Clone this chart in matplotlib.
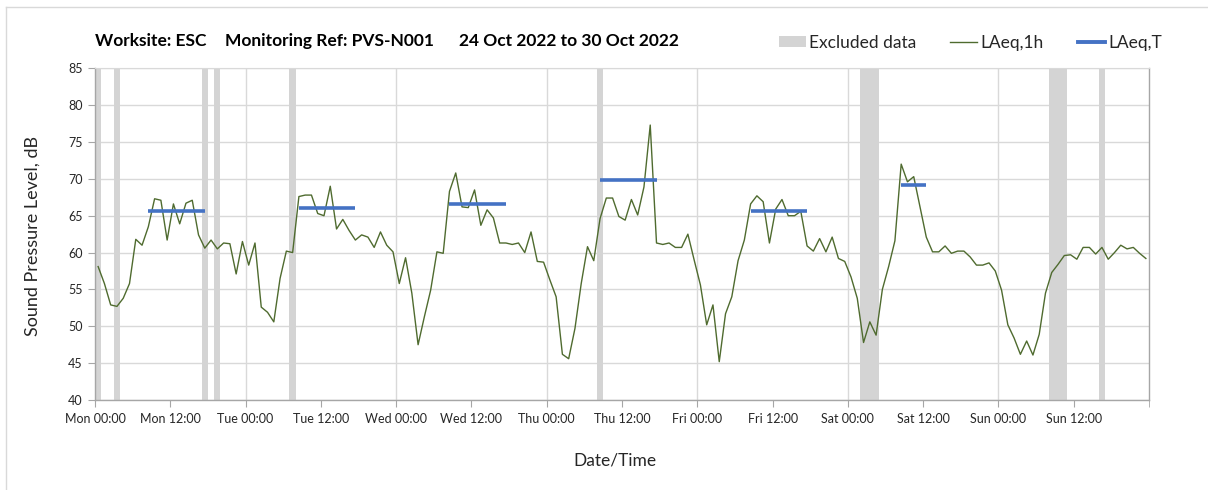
import matplotlib
matplotlib.use("Agg")
import matplotlib.pyplot as plt
from matplotlib.lines import Line2D
from matplotlib.patches import Patch

plt.rcParams['font.family'] = ['Lato', 'DejaVu Sans']

# ---- data ----
laeq_1h = [
    58.1, 55.8, 52.9, 52.7, 53.8, 55.8, 61.8, 61.0, 63.5, 67.3, 67.1, 61.7,
    66.6, 63.9, 66.7, 67.1, 62.4, 60.6, 61.7, 60.5, 61.3, 61.2, 57.1, 61.5,
    58.3, 61.3, 52.6, 51.9, 50.6, 56.5, 60.2, 60.0, 67.6, 67.8, 67.8, 65.3,
    65.0, 69.0, 63.2, 64.5, 63.0, 61.7, 62.4, 62.1, 60.7, 62.8, 61.0, 60.1,
    55.8, 59.3, 54.5, 47.5, 51.3, 54.9, 60.1, 59.9, 68.3, 70.8, 66.2, 66.1,
    68.5, 63.7, 65.8, 64.7, 61.3, 61.3, 61.1, 61.3, 60.0, 62.8, 58.8, 58.7,
    56.3, 54.0, 46.2, 45.6, 49.7, 55.8, 60.8, 58.9, 64.6, 67.4, 67.4, 64.9,
    64.4, 67.2, 65.1, 68.9, 77.3, 61.3, 61.1, 61.3, 60.7, 60.7, 62.5, 59.0,
    55.6, 50.2, 52.9, 45.2, 51.7, 54.0, 58.9, 61.7, 66.6, 67.7, 66.9, 61.3,
    65.9, 67.2, 65.0, 65.0, 65.6, 60.9, 60.2, 61.9, 60.1, 62.1, 59.2, 58.8,
    56.7, 53.8, 47.8, 50.6, 48.8, 55.0, 58.1, 61.6, 72.0, 69.6, 70.3, 66.2,
    62.1, 60.1, 60.1, 60.9, 59.9, 60.2, 60.2, 59.4, 58.3, 58.3, 58.6, 57.5,
    54.9, 50.2, 48.4, 46.2, 48.0, 46.1, 48.9, 54.5, 57.3, 58.4, 59.6, 59.7,
    59.1, 60.7, 60.7, 59.8, 60.7, 59.1, 60.0, 61.0, 60.5, 60.7, 59.9, 59.2,
]
hours = list(range(len(laeq_1h)))          # hour index from Mon 00:00

excluded_hours = [0, 3, 17, 19, 31, 80, 122, 123, 124, 152, 153, 154, 160]

laeqT_first_hour = [8, 32, 56, 80, 104, 128]
laeqT_last_hour = [17, 41, 65, 89, 113, 132]
laeqT_values = [65.6, 66.1, 66.6, 69.8, 65.6, 69.2]

days = ['Mon', 'Tue', 'Wed', 'Thu', 'Fri', 'Sat', 'Sun']
tick_labels = [f"{d} {t}" for d in days for t in ('00:00', '12:00')]

# ---- figure ----
W, H = 1208, 490
fig = plt.figure(figsize=(W / 100, H / 100), dpi=100)
ax = fig.add_axes([95 / W, 1 - 400 / H, (1149 - 95) / W, (400 - 68.3) / H])

grey = '#d4d4d4'
grid_c = '#d9d9d9'
txt_c = '#262626'
green = '#4f6b2f'
blue = '#4472c4'

ax.bar(excluded_hours, [45] * len(excluded_hours), bottom=40, width=1,
       align='edge', color=grey, linewidth=0, zorder=1)

ax.plot([h + 0.5 for h in hours], laeq_1h, color=green, lw=1.0, zorder=3)

for a, b, v in zip(laeqT_first_hour, laeqT_last_hour, laeqT_values):
    ax.plot([a + 0.5, b + 0.5], [v, v], color=blue, lw=2.6,
            solid_capstyle='butt', zorder=4)

ax.set_xlim(0, 168)
ax.set_ylim(40, 85)
ax.set_yticks(range(40, 90, 5))
ax.set_xticks(range(0, 168, 12))
ax.set_xticklabels(tick_labels)
ax.set_xticks([168], minor=True)

ax.yaxis.grid(True, color=grid_c, lw=1.0, zorder=0)
for d in range(24, 168, 24):
    ax.axvline(d, color=grid_c, lw=1.0, zorder=0.5)
ax.set_axisbelow(True)

for s in ('left', 'bottom', 'right'):
    ax.spines[s].set_color('#a6a6a6')
    ax.spines[s].set_linewidth(1.0)
ax.spines['top'].set_color(grid_c)

ax.tick_params(axis='both', which='both', direction='out', length=5,
               color='#a6a6a6', labelcolor=txt_c, labelsize=9)
ax.tick_params(axis='x', pad=4)
ax.tick_params(axis='y', pad=4)

# axis titles
fig.text(33 / W, 1 - 236 / H, 'Sound Pressure Level, dB', fontsize=13,
         color=txt_c, rotation=90, ha='center', va='center')
fig.text(615 / W, 1 - 460 / H, 'Date/Time', fontsize=12.5, color=txt_c,
         ha='center', va='center')

# title
ty = 1 - 41 / H
fig.text(95 / W, ty, 'Worksite: ESC', fontsize=12.5, fontweight='bold',
         color='#000000', va='center')
fig.text(225 / W, ty, 'Monitoring Ref: PVS-N001', fontsize=12.5,
         fontweight='bold', color='#000000', va='center')
fig.text(459 / W, ty, '24 Oct 2022 to 30 Oct 2022', fontsize=12.5,
         fontweight='bold', color='#000000', va='center')

# legend
handles = [Patch(facecolor=grey, edgecolor='none'),
           Line2D([], [], color=green, lw=1.0),
           Line2D([], [], color=blue, lw=2.8)]
leg = fig.legend(handles, ['Excluded data', 'LAeq,1h', 'LAeq,T'],
                 loc='center right', bbox_to_anchor=(1162 / W, 1 - 43 / H),
                 ncol=3, frameon=False, fontsize=12.5, handlelength=1.55,
                 handletextpad=0.2, columnspacing=1.95, handleheight=0.6,
                 borderpad=0, borderaxespad=0)
for t in leg.get_texts():
    t.set_color(txt_c)

# outer border
fig.add_artist(Line2D([5.5 / W, 5.5 / W], [0, 1 - 7 / H], color='#d9d9d9',
                      lw=1, transform=fig.transFigure))
fig.add_artist(Line2D([5.5 / W, 1], [1 - 7.5 / H, 1 - 7.5 / H], color='#d9d9d9',
                      lw=1, transform=fig.transFigure))

fig.savefig('out.png', dpi=100, facecolor='white')
